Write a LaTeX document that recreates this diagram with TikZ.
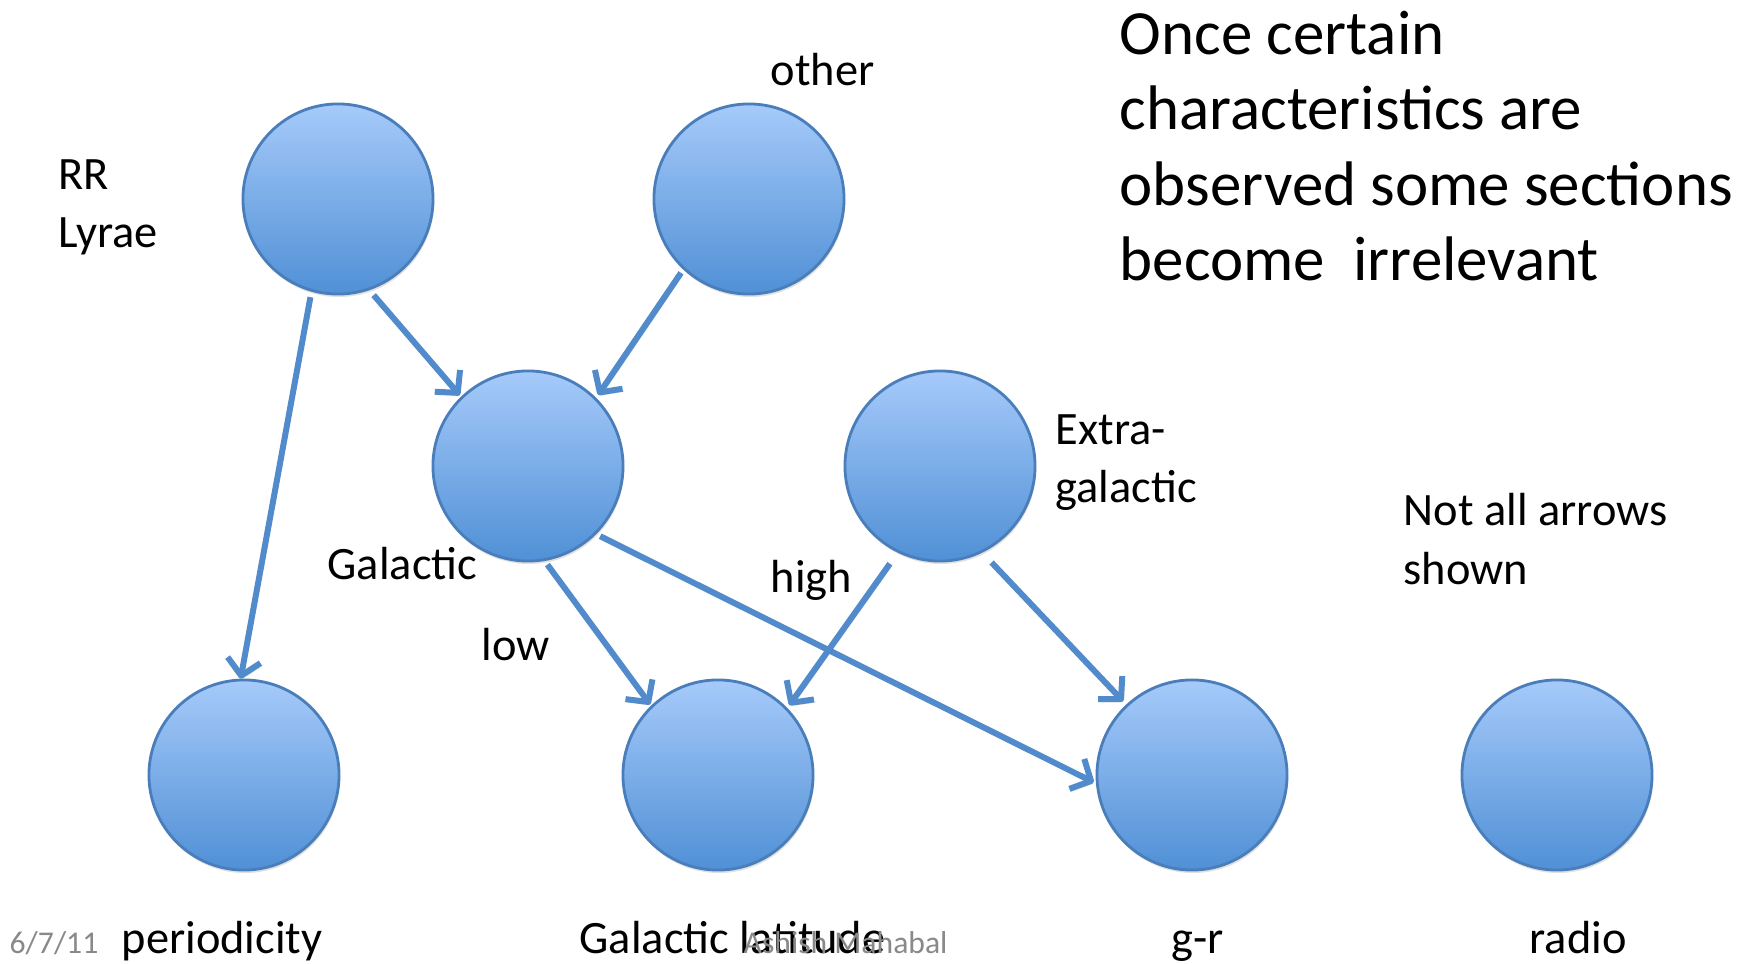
\documentclass[tikz,border=0pt]{standalone}
\usepackage{fontspec}
\setmainfont{Carlito}
\usetikzlibrary{arrows.meta}
\definecolor{fillTop}{RGB}{166,202,250}
\definecolor{fillBot}{RGB}{80,144,214}
\definecolor{edge}{RGB}{74,126,187}
\definecolor{arrowc}{RGB}{82,139,204}
\definecolor{footgray}{RGB}{137,137,137}
\begin{document}
\begin{tikzpicture}[x=0.01cm,y=-0.01cm,
  ball/.style={circle, draw=edge, line width=0.8pt, top color=fillTop, bottom color=fillBot, minimum size=1.9cm, inner sep=0pt,
    preaction={fill=black, opacity=0.12, transform canvas={shift={(0.01cm,-0.03cm)}}}},
  conn/.style={draw=arrowc, line width=1.7pt, line join=round, -{Straight Barb[length=4.5pt,width=9.5pt,line join=round]},
    preaction={draw=black, opacity=0.12, transform canvas={shift={(0.015cm,-0.025cm)}}}},
  lbl/.style={font=\fontsize{13.2}{16.5}\selectfont, inner sep=0pt, anchor=base west, align=left},
  big/.style={font=\fontsize{17.9}{21.5}\selectfont, inner sep=0pt, anchor=base west, align=left},
  foot/.style={font=\fontsize{9}{11}\selectfont, text=footgray, inner sep=0pt, anchor=base west}]
\path[use as bounding box, fill=white] (0,0) rectangle (1754,964);
% circles
\node[ball] (rr) at (338,199) {};
\node[ball] (oth) at (749,199) {};
\node[ball] (gal) at (528,466) {};
\node[ball] (ext) at (940,466) {};
\node[ball] (per) at (244,775) {};
\node[ball] (glat) at (718,775) {};
\node[ball] (gr) at (1192,775) {};
\node[ball] (rad) at (1557,775) {};
% connectors
\draw[conn, shorten <=0.055cm] (rr.-106) -- (per.92);
\draw[conn, shorten <=0.065cm, shorten >=0.02cm] (rr.-71.7) -- (gal.134.6);
\draw[conn, shorten <=0.04cm, shorten >=0.035cm] (oth.-133.8) -- (gal.45);
\draw[conn, shorten <=0.045cm, shorten >=0.015cm] (gal.-80) -- (glat.134.6);
\draw[conn, shorten <=0.045cm, shorten >=0.025cm] (gal.-45.4) -- (gr.-175.3);
\draw[conn, shorten <=0.135cm, shorten >=0.035cm] (ext.-116) -- (glat.44);
\draw[conn, shorten <=0.135cm, shorten >=0.045cm] (ext.-64) -- (gr.133.4);
% labels (multi-line nodes are placed at the baseline of their last line)
\node[lbl] (lrr) at (58,248) {RR\\Lyrae};
\node[lbl] (loth) at (770,86) {other};
\node[lbl] (lgal) at (327,580) {Galactic};
\node[lbl] (lext) at (1055,503) {Extra-\\galactic};
\node[lbl] (lhigh) at (770,593) {high};
\node[lbl] (llow) at (481,660) {low};
\node[lbl] (lnot) at (1403,584) {Not all arrows\\shown};
\node[big] (note) at (1119,281) {Once certain\\characteristics are\\observed some sections\\become\ \ irrelevant};
\node[lbl] (lper) at (121,953) {periodicity};
\node[lbl] (lglat) at (579,953) {Galactic latitude};
\node[lbl] (lgr) at (1171,953) {g-r};
\node[lbl] (lrad) at (1529,953) {radio};
% footer
\node[foot] (date) at (9,953) {6/7/11};
\node[foot] (auth) at (743,953) {Ashish Mahabal};
\end{tikzpicture}
\end{document}
